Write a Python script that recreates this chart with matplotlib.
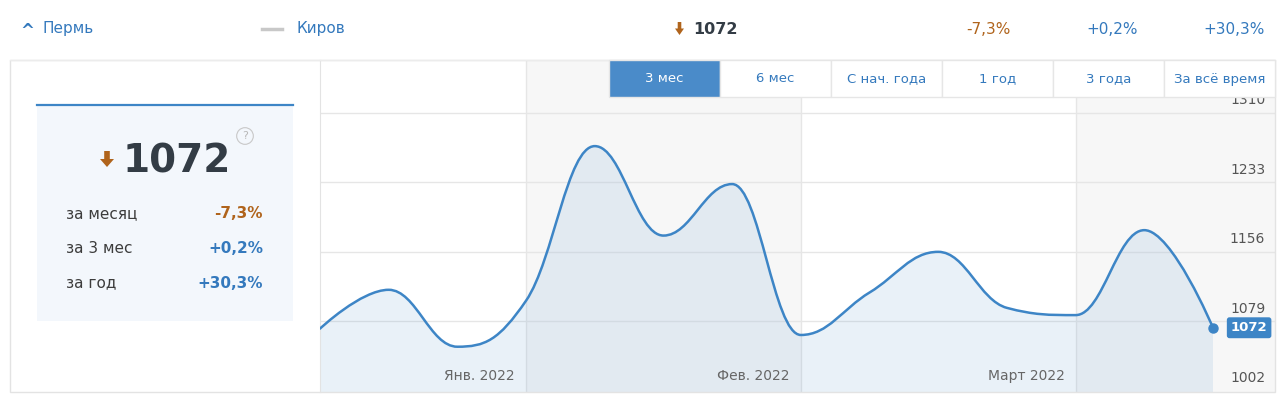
import numpy as np
import matplotlib
matplotlib.use('Agg')
import matplotlib.pyplot as plt
from matplotlib.path import Path
from matplotlib.patches import PathPatch, Rectangle, Polygon

# weekly values, 3 month view
values = [1071, 1114, 1051, 1102, 1273, 1174, 1231, 1064, 1111, 1156, 1094, 1086, 1180, 1072]
y_ticks = [1002, 1079, 1156, 1233, 1310]
month_labels = ['Янв. 2022', 'Фев. 2022', 'Март 2022']
month_bounds = [3, 7, 11]
periods = ['3 мес', '6 мес', 'С нач. года', '1 год', '3 года', 'За всё время']
stat_names = ['за месяц', 'за 3 мес', 'за год']
stat_values = ['-7,3%', '+0,2%', '+30,3%']

BLUE = '#3d85c6'
TXT_BLUE = '#3479bd'
BROWN = '#b0641c'
DARK = '#333c45'
GRID = '#e6e6e6'
BAND = '#f7f7f7'

W, H = 1280, 400
fig = plt.figure(figsize=(W / 100, H / 100), dpi=100)
fig.patch.set_facecolor('white')


def fx(x):
    return x / W


def fy(y):
    return 1 - y / H


def arrow_down(x, y, w, h):
    # small brown down arrow, x,y = top-left in pixels
    pts = [(x + w * 0.3, y), (x + w * 0.7, y), (x + w * 0.7, y + h * 0.5),
           (x + w, y + h * 0.5), (x + w * 0.5, y + h), (x, y + h * 0.5),
           (x + w * 0.3, y + h * 0.5)]
    fig.patches.append(Polygon([(fx(a), fy(b)) for a, b in pts], closed=True,
                               transform=fig.transFigure, color=BROWN, lw=0))


# ---- top row
fig.text(fx(20), fy(31), '^', color=TXT_BLUE, fontsize=12, fontweight='bold', va='center')
fig.text(fx(42), fy(29), 'Пермь', color=TXT_BLUE, fontsize=11, va='center')
fig.lines.append(plt.Line2D([fx(262), fx(282)], [fy(29), fy(29)], transform=fig.transFigure,
                            color='#c8c8c8', lw=2.5))
fig.text(fx(296), fy(29), 'Киров', color=TXT_BLUE, fontsize=11, va='center')
arrow_down(675, 22, 9, 13)
fig.text(fx(693), fy(29), '1072', color=DARK, fontsize=11.5, fontweight='bold', va='center')
for xr, s, c in [(1011, stat_values[0], BROWN), (1138, stat_values[1], TXT_BLUE),
                 (1265, stat_values[2], TXT_BLUE)]:
    fig.text(fx(xr), fy(29), s, color=c, fontsize=11, va='center', ha='right')
fig.lines.append(plt.Line2D([fx(10), fx(1275)], [fy(60), fy(60)], transform=fig.transFigure,
                            color='#ececec', lw=1))

# ---- outer frame
fig.patches.append(Rectangle((fx(10), fy(392)), fx(1265), 332 / H, transform=fig.transFigure,
                             fill=False, ec='#e3e3e3', lw=1))

# ---- left summary box
fig.patches.append(Rectangle((fx(37), fy(321)), fx(256), 217 / H, transform=fig.transFigure,
                             fc='#f3f7fc', ec='none'))
fig.lines.append(plt.Line2D([fx(37), fx(293)], [fy(104.5), fy(104.5)], transform=fig.transFigure,
                            color=BLUE, lw=1.6))
arrow_down(100, 151, 14, 16)
fig.text(fx(177), fy(161), '1072', color=DARK, fontsize=28, fontweight='bold',
         va='center', ha='center')
fig.text(fx(245), fy(136), '?', color='#b8b8b8', fontsize=8, va='center', ha='center',
         bbox=dict(boxstyle='circle,pad=0.3', fc='none', ec='#c8c8c8', lw=0.8))
for i, (n, v) in enumerate(zip(stat_names, stat_values)):
    yy = 214 + i * 34.5
    fig.text(fx(66), fy(yy), n, color='#3c3c3c', fontsize=11, va='center')
    fig.text(fx(263), fy(yy), v, color=BROWN if v.startswith('-') else TXT_BLUE,
             fontsize=11, fontweight='bold', va='center', ha='right')

# ---- chart
ax = fig.add_axes([fx(320), fy(392), (1275 - 320) / W, (392 - 60) / H])
n = len(values)
xs = np.arange(n, dtype=float)
step = (1213 - 320) / (n - 1)
ax.set_xlim(0, (1275 - 320) / step)
ymin = y_ticks[0] - 1.1
ax.set_ylim(ymin, y_ticks[0] + (393 - 60) * 1.1)
ax.set_facecolor('white')
for s in ax.spines.values():
    s.set_visible(False)
ax.spines['left'].set_visible(True)
ax.spines['left'].set_color('#e3e3e3')
ax.set_xticks([])
ax.set_yticks([])

# month bands
edges = [0] + month_bounds + [ax.get_xlim()[1]]
for k in range(len(edges) - 1):
    if k % 2 == 1:
        ax.axvspan(edges[k], edges[k + 1], color=BAND, lw=0, zorder=0)
for b in month_bounds:
    ax.axvline(b, color=GRID, lw=1, zorder=1)
for b, lab in zip(month_bounds, month_labels):
    ax.annotate(lab, (b, y_ticks[0]), xytext=(-8, 6), textcoords='offset points',
                ha='right', va='bottom', fontsize=10, color='#666666', zorder=5)

# grid + y labels
for t in y_ticks[1:]:
    ax.axhline(t, color=GRID, lw=1, zorder=1)
for t in y_ticks:
    ax.annotate(str(t), (ax.get_xlim()[1], t), xytext=(-7, 4), textcoords='offset points',
                ha='right', va='bottom', fontsize=10, color='#555555', zorder=5)

# spline like highcharts
ys = np.array(values, dtype=float)
lc = [(xs[0], ys[0])]
rc = [(xs[0], ys[0])]
for i in range(1, n - 1):
    px, py = xs[i], ys[i]
    lx, ly = xs[i - 1], ys[i - 1]
    nx, ny = xs[i + 1], ys[i + 1]
    lcx, lcy = (1.5 * px + lx) / 2.5, (1.5 * py + ly) / 2.5
    rcx, rcy = (1.5 * px + nx) / 2.5, (1.5 * py + ny) / 2.5
    corr = (rcy - lcy) * (rcx - px) / (rcx - lcx) + py - rcy
    lcy += corr
    rcy += corr
    if lcy > ly and lcy > py:
        lcy = max(ly, py)
        rcy = 2 * py - lcy
    elif lcy < ly and lcy < py:
        lcy = min(ly, py)
        rcy = 2 * py - lcy
    if rcy > ny and rcy > py:
        rcy = max(ny, py)
        lcy = 2 * py - rcy
    elif rcy < ny and rcy < py:
        rcy = min(ny, py)
        lcy = 2 * py - rcy
    lc.append((lcx, lcy))
    rc.append((rcx, rcy))
lc.append((xs[-1], ys[-1]))
rc.append((xs[-1], ys[-1]))

verts = [(xs[0], ys[0])]
codes = [Path.MOVETO]
for i in range(1, n):
    verts += [rc[i - 1], lc[i], (xs[i], ys[i])]
    codes += [Path.CURVE4] * 3

fill_verts = verts + [(xs[-1], ymin), (xs[0], ymin), (xs[0], ys[0])]
fill_codes = codes + [Path.LINETO, Path.LINETO, Path.CLOSEPOLY]
ax.add_patch(PathPatch(Path(fill_verts, fill_codes), fc=BLUE, alpha=0.11, lw=0, zorder=2))
ax.add_patch(PathPatch(Path(verts, codes), fc='none', ec=BLUE, lw=1.8, zorder=4,
                       capstyle='round', joinstyle='round'))
ax.plot(xs[-1], ys[-1], 'o', color=BLUE, ms=6.5, zorder=6)
ax.annotate(str(values[-1]), (xs[-1], ys[-1]), xytext=(26, 0), textcoords='offset points',
            ha='center', va='center', fontsize=9.5, fontweight='bold', color='white', zorder=7,
            bbox=dict(boxstyle='round,pad=0.3,rounding_size=0.2', fc=BLUE, ec='none'))

# ---- period buttons
bx0, bw = 609, 111
for i, p in enumerate(periods):
    x0 = bx0 + i * bw
    w = bw if i < len(periods) - 1 else 1275 - x0
    active = i == 0
    fig.patches.append(Rectangle((fx(x0), fy(97)), fx(w), 37 / H, transform=fig.transFigure,
                                 fc='#4a8bc9' if active else 'white', ec='#e6e6e6', lw=1,
                                 zorder=10))
    fig.text(fx(x0 + w / 2), fy(79), p, color='white' if active else TXT_BLUE, fontsize=9.5,
             ha='center', va='center', zorder=11)

fig.savefig('out.png', dpi=100)
